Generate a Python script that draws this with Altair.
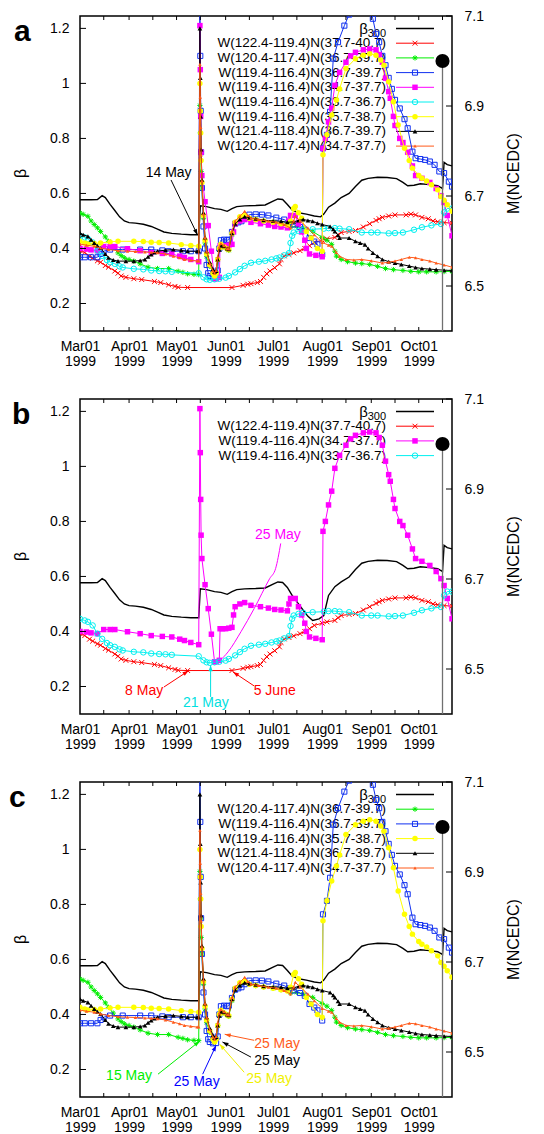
import math
import altair as alt
import pandas as pd

YEAR = "1999"
W, H = 372, 315
FONT = "Liberation Sans"

# ---------------- axes / ticks ----------------
x_domain = ["03-01", "10-22"]
beta_domain = [0.1, 1.245]
mag_domain = [6.4, 7.1]
month_ticks = ["03-01", "04-01", "05-01", "06-01", "07-01", "08-01", "09-01", "10-01"]
minor_ticks = ["03-16", "04-16", "05-16", "06-16", "07-16", "08-16", "09-16", "10-16"]
beta_ticks = [0.2, 0.4, 0.6, 0.8, 1.0, 1.2]
mag_ticks = [6.5, 6.7, 6.9, 7.1]

# ---------------- series (date MM-DD[Thh:mm], beta) ----------------
beta300_ac = [("03-01", 0.577), ("03-08", 0.577), ("03-12", 0.578), ("03-15", 0.592), ("03-17", 0.585),
              ("03-20", 0.560), ("03-23", 0.538), ("03-26", 0.515), ("03-29", 0.500), ("04-01", 0.494),
              ("04-05", 0.492), ("04-10", 0.488), ("04-15", 0.480), ("04-19", 0.470), ("04-23", 0.460),
              ("04-28", 0.455), ("05-04", 0.452), ("05-10", 0.450), ("05-15", 0.450), ("05-16", 0.555),
              ("05-20", 0.552), ("05-25", 0.545), ("05-29", 0.542), ("06-02", 0.535), ("06-05", 0.545),
              ("06-08", 0.552), ("06-13", 0.555), ("06-20", 0.556), ("06-26", 0.558), ("07-01", 0.572),
              ("07-04", 0.580), ("07-07", 0.578), ("07-10", 0.560), ("07-13", 0.540), ("07-17", 0.530),
              ("07-22", 0.525), ("07-27", 0.518), ("07-31", 0.515), ("08-02", 0.525), ("08-05", 0.550),
              ("08-09", 0.565), ("08-13", 0.585), ("08-18", 0.600), ("08-22", 0.625), ("08-26", 0.648),
              ("08-30", 0.655), ("09-05", 0.659), ("09-11", 0.658), ("09-17", 0.654), ("09-21", 0.640),
              ("09-24", 0.628), ("09-28", 0.630), ("10-02", 0.635), ("10-08", 0.632), ("10-13", 0.628),
              ("10-16", 0.618), ("10-17", 0.713), ("10-19", 0.705), ("10-22", 0.700)]

beta300_b = [("03-01", 0.577), ("03-08", 0.577), ("03-12", 0.578), ("03-15", 0.592), ("03-17", 0.585),
             ("03-20", 0.560), ("03-23", 0.538), ("03-26", 0.515), ("03-29", 0.500), ("04-01", 0.494),
             ("04-05", 0.492), ("04-10", 0.488), ("04-15", 0.480), ("04-19", 0.470), ("04-23", 0.460),
             ("04-28", 0.455), ("05-04", 0.452), ("05-10", 0.450), ("05-15", 0.450), ("05-16", 0.555),
             ("05-20", 0.552), ("05-25", 0.545), ("05-29", 0.542), ("06-02", 0.535), ("06-05", 0.545),
             ("06-08", 0.552), ("06-13", 0.555), ("06-20", 0.556), ("06-26", 0.558), ("07-01", 0.572),
             ("07-04", 0.580), ("07-07", 0.578), ("07-10", 0.560), ("07-13", 0.531), ("07-17", 0.500),
             ("07-20", 0.477), ("07-23", 0.455), ("07-26", 0.440), ("07-30", 0.446), ("08-02", 0.458),
             ("08-05", 0.531), ("08-09", 0.563), ("08-13", 0.580), ("08-18", 0.598), ("08-22", 0.625),
             ("08-26", 0.648), ("08-30", 0.655), ("09-05", 0.659), ("09-11", 0.658), ("09-17", 0.654),
             ("09-21", 0.640), ("09-24", 0.628), ("09-28", 0.630), ("10-02", 0.635), ("10-08", 0.632),
             ("10-13", 0.628), ("10-16", 0.618), ("10-17", 0.713), ("10-19", 0.705), ("10-22", 0.700)]

red = [("03-01", 0.392), ("03-04", 0.385), ("03-07", 0.372), ("03-09", 0.365), ("03-12", 0.355),
       ("03-14", 0.350), ("03-17", 0.338), ("03-19", 0.332), ("03-23", 0.318), ("03-25", 0.310),
       ("03-27", 0.300), ("03-30", 0.295), ("04-04", 0.290), ("04-09", 0.287), ("04-17", 0.280),
       ("04-21", 0.276), ("04-26", 0.268), ("04-30", 0.262), ("05-02", 0.259), ("05-08", 0.258),
       ("06-05", 0.258), ("06-12", 0.266), ("06-15", 0.270), ("06-17", 0.272), ("06-21", 0.276),
       ("06-23", 0.280), ("06-25", 0.295), ("06-27", 0.308), ("06-29", 0.318), ("07-02", 0.330),
       ("07-05", 0.344), ("07-06", 0.360), ("07-08", 0.373), ("07-11", 0.378), ("07-14", 0.384),
       ("07-18", 0.392), ("07-21", 0.400), ("07-24", 0.410), ("07-27", 0.422), ("08-01", 0.430),
       ("08-04", 0.435), ("08-09", 0.440), ("08-11", 0.450), ("08-13", 0.458), ("08-18", 0.462),
       ("08-22", 0.465), ("08-27", 0.478), ("08-31", 0.490), ("09-04", 0.502), ("09-06", 0.508),
       ("09-08", 0.513), ("09-12", 0.518), ("09-16", 0.522), ("09-23", 0.522), ("09-26", 0.525),
       ("09-29", 0.522), ("10-03", 0.513), ("10-07", 0.508), ("10-10", 0.500), ("10-13", 0.497),
       ("10-17", 0.494), ("10-22", 0.492)]

cyan = [("03-01", 0.446), ("03-04", 0.440), ("03-06", 0.435), ("03-09", 0.422), ("03-12", 0.392),
        ("03-15", 0.373), ("03-18", 0.358), ("03-20", 0.350), ("03-23", 0.344), ("03-26", 0.335),
        ("03-28", 0.331), ("04-04", 0.326), ("04-10", 0.324), ("04-15", 0.320), ("04-20", 0.318),
        ("04-24", 0.317), ("04-28", 0.315), ("05-15", 0.310), ("05-18", 0.295), ("05-20", 0.288),
        ("05-22", 0.286), ("05-25", 0.288), ("05-28", 0.290), ("06-01", 0.294), ("06-03", 0.300),
        ("06-07", 0.313), ("06-10", 0.325), ("06-13", 0.337), ("06-17", 0.348), ("06-22", 0.352),
        ("06-26", 0.355), ("06-30", 0.360), ("07-03", 0.364), ("07-05", 0.367), ("07-08", 0.375),
        ("07-11", 0.383), ("07-12", 0.420), ("07-13", 0.446), ("07-14", 0.458), ("07-17", 0.464),
        ("07-20", 0.468), ("07-26", 0.470), ("08-02", 0.472), ("08-05", 0.474), ("08-09", 0.474),
        ("08-12", 0.472), ("08-18", 0.470), ("08-26", 0.458), ("09-01", 0.458), ("09-05", 0.458),
        ("09-12", 0.455), ("09-16", 0.456), ("09-21", 0.458), ("09-28", 0.468), ("10-03", 0.477),
        ("10-09", 0.484), ("10-15", 0.489), ("10-17", 0.531), ("10-19", 0.545), ("10-22", 0.545)]

magenta = [("03-01", 0.400), ("03-05", 0.398), ("03-08", 0.395), ("03-12", 0.392), ("03-16", 0.407),
           ("03-20", 0.407), ("03-23", 0.407), ("03-31", 0.399), ("04-08", 0.392), ("04-15", 0.385),
           ("04-22", 0.382), ("04-28", 0.380), ("05-03", 0.372), ("05-06", 0.367), ("05-10", 0.360),
           ("05-15", 0.352), ("05-15T18:00", 1.21), ("05-16T00:00", 1.05), ("05-16T06:00", 0.88),
           ("05-16T12:00", 0.75), ("05-17", 0.665), ("05-19", 0.57), ("05-21", 0.483), ("05-23", 0.39),
           ("05-25", 0.29), ("05-26", 0.29), ("05-28", 0.295), ("05-28T12:00", 0.41), ("05-30", 0.41),
           ("06-01", 0.41), ("06-03", 0.412), ("06-05", 0.415), ("06-06", 0.46), ("06-07", 0.49),
           ("06-10", 0.50), ("06-13", 0.505), ("06-17", 0.495), ("06-23", 0.49), ("06-28", 0.485),
           ("07-02", 0.48), ("07-06", 0.478), ("07-10", 0.475), ("07-11", 0.50), ("07-12", 0.52),
           ("07-15", 0.52), ("07-17", 0.49), ("07-19", 0.46), ("07-21", 0.43), ("07-22", 0.40),
           ("07-24", 0.38), ("07-28", 0.375), ("08-01", 0.37), ("08-01T12:00", 0.764), ("08-03", 0.80),
           ("08-05", 0.86), ("08-07", 0.91), ("08-09", 0.993), ("08-12", 1.04), ("08-16", 1.077),
           ("08-19", 1.10), ("08-22", 1.113), ("08-27", 1.122), ("08-31", 1.125), ("09-04", 1.122),
           ("09-06", 1.105), ("09-08", 1.077), ("09-10", 1.019), ("09-12", 0.97), ("09-13", 0.946),
           ("09-15", 0.88), ("09-16", 0.847), ("09-19", 0.80), ("09-21", 0.785), ("09-24", 0.75),
           ("09-27", 0.70), ("09-29", 0.665), ("10-03", 0.655), ("10-08", 0.64), ("10-12", 0.618),
           ("10-15", 0.592), ("10-17", 0.567), ("10-19", 0.52), ("10-22", 0.446)]

blue = [("03-01", 0.368), ("03-04", 0.368), ("03-08", 0.368), ("03-12", 0.368), ("03-14", 0.380),
        ("03-16", 0.390), ("03-20", 0.396), ("03-28", 0.396), ("04-08", 0.396), ("04-15", 0.396),
        ("04-22", 0.393), ("04-26", 0.390), ("05-05", 0.390), ("05-10", 0.390), ("05-15", 0.390),
        ("05-15T18:00", 1.32), ("05-16T00:00", 1.10), ("05-16T06:00", 0.90), ("05-16T12:00", 0.75),
        ("05-17", 0.62), ("05-18", 0.48), ("05-19", 0.40), ("05-20", 0.34), ("05-21", 0.31),
        ("05-22", 0.300), ("05-24", 0.295), ("05-26", 0.296), ("05-27", 0.32), ("05-28", 0.40),
        ("05-29", 0.43), ("05-31", 0.432), ("06-02", 0.43), ("06-03", 0.432), ("06-05", 0.46),
        ("06-07", 0.49), ("06-09", 0.495), ("06-11", 0.499), ("06-13", 0.510), ("06-16", 0.523),
        ("06-20", 0.524), ("06-24", 0.523), ("06-28", 0.520), ("07-03", 0.512), ("07-08", 0.505),
        ("07-11", 0.495), ("07-14", 0.487), ("07-18", 0.478), ("07-21", 0.468), ("07-24", 0.438),
        ("07-27", 0.425), ("07-29", 0.415), ("08-01", 0.378), ("08-01T12:00", 0.764), ("08-04", 0.813),
        ("08-06", 0.897), ("08-08", 1.09), ("08-11", 1.15), ("08-15", 1.21), ("08-18", 1.25),
        ("08-24", 1.31), ("08-29", 1.30), ("09-02", 1.235), ("09-04", 1.18), ("09-06", 1.15),
        ("09-08", 1.10), ("09-10", 1.066), ("09-12", 1.02), ("09-14", 0.98), ("09-16", 0.94),
        ("09-19", 0.909), ("09-22", 0.87), ("09-24", 0.837), ("09-27", 0.752), ("09-29", 0.728),
        ("10-02", 0.725), ("10-05", 0.722), ("10-08", 0.716), ("10-11", 0.704), ("10-14", 0.68),
        ("10-17", 0.674), ("10-20", 0.643), ("10-22", 0.625)]

yellow = [("03-01", 0.426), ("03-04", 0.420), ("03-06", 0.416), ("03-10", 0.418), ("03-14", 0.420),
          ("03-20", 0.424), ("03-25", 0.426), ("04-04", 0.426), ("04-10", 0.425), ("04-15", 0.423),
          ("04-20", 0.422), ("04-26", 0.420), ("05-04", 0.414), ("05-10", 0.411), ("05-15", 0.408),
          ("05-15T18:00", 1.00), ("05-16T00:00", 0.90), ("05-16T06:00", 0.82), ("05-16T12:00", 0.72),
          ("05-17", 0.64), ("05-18", 0.52), ("05-19", 0.43), ("05-20", 0.38), ("05-22", 0.34),
          ("05-24", 0.31), ("05-25", 0.300), ("05-26", 0.31), ("05-27", 0.36), ("05-28", 0.40),
          ("05-29", 0.415), ("05-31", 0.405), ("06-02", 0.398), ("06-03", 0.395), ("06-05", 0.455),
          ("06-07", 0.495), ("06-10", 0.515), ("06-13", 0.52), ("06-16", 0.51), ("06-20", 0.505),
          ("06-25", 0.50), ("07-01", 0.495), ("07-06", 0.49), ("07-10", 0.485), ("07-12", 0.499),
          ("07-14", 0.545), ("07-15", 0.553), ("07-17", 0.53), ("07-19", 0.51), ("07-22", 0.462),
          ("07-25", 0.438), ("07-29", 0.400), ("08-01", 0.390), ("08-01T12:00", 0.741), ("08-04", 0.813),
          ("08-07", 0.885), ("08-10", 0.94), ("08-12", 0.98), ("08-16", 1.054), ("08-22", 1.09),
          ("08-27", 1.102), ("08-31", 1.108), ("09-04", 1.102), ("09-07", 1.085), ("09-09", 1.066),
          ("09-12", 1.006), ("09-15", 0.933), ("09-18", 0.849), ("09-22", 0.764), ("09-25", 0.72),
          ("09-27", 0.692), ("10-01", 0.665), ("10-03", 0.655), ("10-06", 0.645), ("10-09", 0.632),
          ("10-13", 0.613), ("10-15", 0.589), ("10-17", 0.575), ("10-19", 0.559), ("10-22", 0.535)]

green = [("03-01", 0.529), ("03-03", 0.524), ("03-06", 0.517), ("03-08", 0.500), ("03-10", 0.487),
         ("03-12", 0.475), ("03-14", 0.462), ("03-17", 0.442), ("03-19", 0.426), ("03-22", 0.405),
         ("03-25", 0.384), ("03-27", 0.374), ("03-29", 0.366), ("04-01", 0.360), ("04-04", 0.354),
         ("04-08", 0.344), ("04-13", 0.332), ("04-19", 0.327), ("04-26", 0.327), ("05-02", 0.317),
         ("05-05", 0.313), ("05-08", 0.308), ("05-12", 0.306), ("05-15", 0.305), ("05-15T18:00", 0.92),
         ("05-16T00:00", 0.82), ("05-16T06:00", 0.75), ("05-16T12:00", 0.68), ("05-17", 0.62),
         ("05-18", 0.51), ("05-19", 0.42), ("05-20", 0.37), ("05-22", 0.335), ("05-24", 0.315),
         ("05-25", 0.308), ("05-26", 0.315), ("05-27", 0.36), ("05-28", 0.395), ("05-29", 0.41),
         ("05-31", 0.405), ("06-02", 0.398), ("06-03", 0.393), ("06-05", 0.45), ("06-07", 0.49),
         ("06-10", 0.51), ("06-13", 0.52), ("06-16", 0.51), ("06-20", 0.505), ("06-25", 0.50),
         ("07-01", 0.495), ("07-06", 0.49), ("07-12", 0.478), ("07-16", 0.48), ("07-20", 0.474),
         ("07-26", 0.462), ("08-01", 0.440), ("08-04", 0.430), ("08-07", 0.415), ("08-09", 0.39),
         ("08-10", 0.372), ("08-13", 0.360), ("08-17", 0.352), ("08-22", 0.347), ("08-26", 0.345),
         ("08-31", 0.342), ("09-05", 0.335), ("09-10", 0.327), ("09-15", 0.323), ("09-21", 0.320),
         ("09-26", 0.317), ("10-01", 0.315), ("10-06", 0.315), ("10-12", 0.315), ("10-17", 0.316),
         ("10-22", 0.317)]

black = [("03-01", 0.456), ("03-03", 0.450), ("03-06", 0.444), ("03-08", 0.432), ("03-10", 0.420),
         ("03-12", 0.410), ("03-14", 0.402), ("03-17", 0.380), ("03-19", 0.366), ("03-22", 0.358),
         ("03-25", 0.354), ("03-30", 0.354), ("04-04", 0.354), ("04-08", 0.356), ("04-11", 0.360),
         ("04-13", 0.370), ("04-15", 0.378), ("04-17", 0.385), ("04-19", 0.390), ("04-24", 0.394),
         ("04-29", 0.396), ("05-04", 0.393), ("05-08", 0.390), ("05-14", 0.390), ("05-15", 0.390),
         ("05-15T18:00", 1.20), ("05-16T00:00", 1.02), ("05-16T06:00", 0.88), ("05-16T12:00", 0.76),
         ("05-17", 0.65), ("05-18", 0.53), ("05-19", 0.44), ("05-20", 0.39), ("05-22", 0.35),
         ("05-24", 0.325), ("05-25", 0.315), ("05-26", 0.318), ("05-27", 0.36), ("05-28", 0.395),
         ("05-29", 0.41), ("05-31", 0.408), ("06-02", 0.40), ("06-03", 0.397), ("06-05", 0.455),
         ("06-07", 0.49), ("06-10", 0.505), ("06-13", 0.515), ("06-16", 0.512), ("06-20", 0.508),
         ("06-25", 0.503), ("07-01", 0.50), ("07-06", 0.499), ("07-10", 0.495), ("07-14", 0.497),
         ("07-17", 0.502), ("07-20", 0.505), ("07-23", 0.502), ("07-26", 0.499), ("07-29", 0.492),
         ("08-01", 0.487), ("08-06", 0.480), ("08-08", 0.470), ("08-09", 0.462), ("08-11", 0.448),
         ("08-12", 0.438), ("08-18", 0.438), ("08-22", 0.426), ("08-25", 0.420), ("08-28", 0.414),
         ("08-30", 0.400), ("09-02", 0.384), ("09-05", 0.372), ("09-08", 0.360), ("09-12", 0.352),
         ("09-16", 0.347), ("09-20", 0.342), ("09-25", 0.336), ("09-29", 0.331), ("10-03", 0.327),
         ("10-08", 0.325), ("10-12", 0.323), ("10-17", 0.321), ("10-22", 0.320)]

orange = [("03-01", 0.416), ("03-05", 0.412), ("03-10", 0.408), ("03-14", 0.402), ("03-19", 0.396),
          ("03-25", 0.392), ("03-31", 0.390), ("04-05", 0.389), ("04-11", 0.387), ("04-15", 0.386),
          ("04-19", 0.384), ("04-24", 0.380), ("04-29", 0.372), ("05-03", 0.366), ("05-06", 0.360),
          ("05-10", 0.357), ("05-14", 0.354), ("05-15", 0.354), ("05-15T18:00", 1.07),
          ("05-16T00:00", 0.95), ("05-16T06:00", 0.84), ("05-16T12:00", 0.74), ("05-17", 0.645),
          ("05-18", 0.525), ("05-19", 0.44), ("05-20", 0.39), ("05-22", 0.345), ("05-24", 0.318),
          ("05-25", 0.310), ("05-26", 0.32), ("05-27", 0.37), ("05-28", 0.405), ("05-29", 0.418),
          ("05-31", 0.41), ("06-02", 0.40), ("06-03", 0.398), ("06-05", 0.462), ("06-07", 0.50),
          ("06-10", 0.517), ("06-13", 0.535), ("06-15", 0.52), ("06-17", 0.51), ("06-22", 0.505),
          ("06-28", 0.499), ("07-03", 0.495), ("07-08", 0.487), ("07-12", 0.474), ("07-14", 0.50),
          ("07-15", 0.517), ("07-18", 0.50), ("07-23", 0.474), ("07-27", 0.450), ("08-01", 0.422),
          ("08-05", 0.412), ("08-07", 0.408), ("08-10", 0.385), ("08-12", 0.372), ("08-16", 0.360),
          ("08-21", 0.358), ("08-26", 0.360), ("09-01", 0.355), ("09-08", 0.347), ("09-12", 0.350),
          ("09-16", 0.354), ("09-20", 0.360), ("09-25", 0.368), ("09-29", 0.366), ("10-03", 0.360),
          ("10-08", 0.354), ("10-12", 0.347), ("10-17", 0.340), ("10-22", 0.332)]

quake_dates = ["10-16"]
quake_mags = [7.0]

labels = {
    "red": "W(122.4-119.4)N(37.7-40.7)",
    "green": "W(120.4-117.4)N(36.7-39.7)",
    "blue": "W(119.4-116.4)N(36.7-39.7)",
    "magenta": "W(119.4-116.4)N(34.7-37.7)",
    "cyan": "W(119.4-116.4)N(33.7-36.7)",
    "yellow": "W(119.4-116.4)N(35.7-38.7)",
    "black": "W(121.4-118.4)N(36.7-39.7)",
    "orange": "W(120.4-117.4)N(34.7-37.7)",
}
series = {"red": red, "green": green, "blue": blue, "magenta": magenta, "cyan": cyan,
          "yellow": yellow, "black": black, "orange": orange}

# annotations: (text, date, beta, colour) and arrows (date1, beta1, date2, beta2, colour)
notes_a = [("14 May", "04-26", 0.675, "#000000")]
arrows_a = [("04-27T12:00", 0.649, "05-14T06:00", 0.449, "#000000")]
notes_b = [("25 May", "07-04", 0.749, "#ff00ff"), ("8 May", "04-10T12:00", 0.184, "#ff0000"),
           ("21 May", "05-19T12:00", 0.140, "#00e0e0"), ("5 June", "07-02", 0.184, "#ff0000")]
arrows_b = [("04-23", 0.198, "05-08T14:00", 0.257, "#ff0000"),
            ("05-22T12:00", 0.162, "05-22T12:00", 0.277, "#00e0e0"),
            ("06-19", 0.202, "06-05T16:00", 0.253, "#ff0000")]
curve_b = [("07-05T19:00", 0.72), ("07-02T14:00", 0.629), ("06-28T19:00", 0.592), ("06-19", 0.483),
           ("06-10T19:00", 0.40), ("06-02T14:00", 0.326), ("05-28T05:00", 0.293)]
notes_c = [("25 May", "07-03T12:00", 0.292, "#ff5a1a"), ("25 May", "07-03T12:00", 0.230, "#000000"),
           ("25 May", "06-28T12:00", 0.165, "#f0f000"), ("25 May", "05-13T17:00", 0.154, "#0000ff"),
           ("15 May", "04-01", 0.176, "#00ee00")]
arrows_c = [("06-19", 0.306, "05-31T10:00", 0.328, "#ff5a1a"),
            ("06-17", 0.245, "05-30", 0.300, "#000000"),
            ("06-12T17:00", 0.190, "05-28T05:00", 0.292, "#f0f000"),
            ("05-17T12:00", 0.183, "05-26", 0.288, "#0000ff"),
            ("04-19T07:00", 0.183, "05-15T14:00", 0.303, "#00ee00")]

# ---------------- styles ----------------
STY = {
    "red": dict(color="#ff0000", shape="M-1,-1L1,1M-1,1L1,-1", filled=False, size=24),
    "green": dict(color="#00ee00", shape="M-1,0L1,0M0,-1L0,1M-0.7,-0.7L0.7,0.7M-0.7,0.7L0.7,-0.7",
                  filled=False, size=28),
    "blue": dict(color="#1030f0", shape="square", filled=False, size=26),
    "magenta": dict(color="#ff00ff", shape="square", filled=True, size=30),
    "cyan": dict(color="#00f0f0", shape="circle", filled=False, size=30),
    "yellow": dict(color="#ffff00", shape="circle", filled=True, size=30),
    "black": dict(color="#000000", shape="triangle-up", filled=True, size=22),
    "orange": dict(color="#ff5a1a", shape="triangle-up", filled=True, size=12),
}
HEAD = "M0,0L0.7,2L-0.7,2Z"


def ts(md):
    return pd.Timestamp(f"{YEAR}-{md}", tz="UTC")


def iso(md):
    return ts(md).strftime("%Y-%m-%dT%H:%M:%SZ")


def ms(md):
    return int(ts(md).value // 1_000_000)


XS = alt.Scale(type="utc", domain=[ms(x_domain[0]), ms(x_domain[1])])
BS = alt.Scale(domain=beta_domain, nice=False, zero=False)
MS = alt.Scale(domain=mag_domain, nice=False, zero=False)
SPAN_DAYS = (ts(x_domain[1]) - ts(x_domain[0])).total_seconds() / 86400.0

X_AXIS = alt.Axis(values=[ms(m) for m in month_ticks],
                  labelExpr="[utcFormat(datum.value, '%b%d'), utcFormat(datum.value, '%Y')]",
                  labelFont=FONT, labelFontSize=14, labelColor="black", labelPadding=8,
                  labelLineHeight=15, labelFlush=False, labelOverlap=False,
                  ticks=False, tickSize=0, domain=False, grid=False, title=None)
Y_AXIS = alt.Axis(values=beta_ticks, format="~g", orient="left", labelFont=FONT, labelFontSize=14,
                  labelColor="black", labelPadding=11, labelFlush=False, labelOverlap=False,
                  ticks=False, tickSize=0, domain=False, grid=False,
                  title="β", titleFont=FONT, titleFontSize=16, titleFontWeight="normal",
                  titleColor="black", titleAngle=270, titleX=-60, titleY=157,
                  titleAlign="center", titleBaseline="middle")
M_AXIS = alt.Axis(values=mag_ticks, format=".1f", orient="right", labelFont=FONT, labelFontSize=14,
                  labelColor="black", labelPadding=12, labelFlush=False, labelOverlap=False,
                  ticks=False, tickSize=0, domain=False, grid=False,
                  title="M(NCEDC)", titleFont=FONT, titleFontSize=16, titleFontWeight="normal",
                  titleColor="black", titleAngle=270, titleX=61, titleY=157,
                  titleAlign="center", titleBaseline="middle")


def sdf(pairs):
    return pd.DataFrame({"t": [iso(p[0]) for p in pairs], "v": [p[1] for p in pairs]})


def EX():
    return alt.X("t:T", scale=XS, axis=X_AXIS)


def EY(field="v"):
    return alt.Y(f"{field}:Q", scale=BS, axis=Y_AXIS)


def EM(field="m"):
    return alt.Y(f"{field}:Q", scale=MS, axis=M_AXIS)


def xy():
    return dict(x=EX(), y=EY())


ONE = pd.DataFrame({"k": [0]})


def legend_layers(keys):
    out = []
    y0 = 12.5
    out.append(alt.Chart(ONE).mark_text(text="β", font=FONT, fontSize=15, align="right",
                                        baseline="middle", color="black")
               .encode(x=alt.value(288), y=alt.value(y0)))
    out.append(alt.Chart(ONE).mark_text(text="300", font=FONT, fontSize=11, align="right",
                                        baseline="middle", color="black")
               .encode(x=alt.value(306), y=alt.value(y0 + 5)))
    out.append(alt.Chart(ONE).mark_rule(color="black", strokeWidth=1.5)
               .encode(x=alt.value(316), x2=alt.value(354), y=alt.value(y0)))
    for i, k in enumerate(keys, 1):
        y = y0 + 14.7 * i
        st = STY[k]
        out.append(alt.Chart(ONE).mark_text(text=labels[k], font=FONT, fontSize=13.5, align="right",
                                            baseline="middle", color="black")
                   .encode(x=alt.value(306), y=alt.value(y)))
        out.append(alt.Chart(ONE).mark_rule(color=st["color"], strokeWidth=1)
                   .encode(x=alt.value(316), x2=alt.value(354), y=alt.value(y)))
        out.append(alt.Chart(ONE).mark_point(shape=st["shape"], filled=st["filled"], size=st["size"],
                                             color=st["color"], opacity=1, strokeWidth=1)
                   .encode(x=alt.value(335), y=alt.value(y)))
    return out


def series_layers(k):
    st = STY[k]
    d = sdf(series[k])
    line = alt.Chart(d).mark_line(color=st["color"], strokeWidth=1, clip=True).encode(**xy())
    pts = alt.Chart(d).mark_point(shape=st["shape"], filled=st["filled"], size=st["size"],
                                  color=st["color"], opacity=1, strokeWidth=1, clip=True).encode(**xy())
    return [line, pts]


def pix(md, v):
    d = (ts(md) - ts(x_domain[0])).total_seconds() / 86400.0
    return d * W / SPAN_DAYS, (beta_domain[1] - v) * H / (beta_domain[1] - beta_domain[0])


def note_layers(notes, arrows):
    out = []
    for txt, md, v, col in notes:
        d = pd.DataFrame({"t": [iso(md)], "v": [v], "s": [txt]})
        out.append(alt.Chart(d).mark_text(font=FONT, fontSize=14, color=col, align="center",
                                          baseline="middle").encode(text="s:N", **xy()))
    for md1, v1, md2, v2, col in arrows:
        d = pd.DataFrame({"t": [iso(md1)], "v": [v1], "t2": [iso(md2)], "v2": [v2]})
        out.append(alt.Chart(d).mark_rule(color=col, strokeWidth=1)
                   .encode(x2="t2:T", y2="v2:Q", **xy()))
        x1, y1 = pix(md1, v1)
        x2, y2 = pix(md2, v2)
        ang = math.degrees(math.atan2(x2 - x1, -(y2 - y1))) % 360
        hd = pd.DataFrame({"t": [iso(md2)], "v": [v2]})
        out.append(alt.Chart(hd).mark_point(shape=HEAD, filled=True, size=36, color=col, opacity=1,
                                            angle=round(ang, 1)).encode(**xy()))
    return out


def tick_layers():
    xt = pd.DataFrame({"t": [iso(m) for m in month_ticks[1:] + minor_ticks]})
    yt = pd.DataFrame({"v": beta_ticks})
    out = [
        alt.Chart(xt).mark_rule(color="black", strokeWidth=1).encode(x=EX(), y=alt.value(H), y2=alt.value(H - 4)),
        alt.Chart(xt).mark_rule(color="black", strokeWidth=1).encode(x=EX(), y=alt.value(0), y2=alt.value(4)),
        alt.Chart(yt).mark_rule(color="black", strokeWidth=1).encode(y=EY(), x=alt.value(0), x2=alt.value(6)),
    ]
    return out


def mag_layers():
    q = pd.DataFrame({"t": [iso(d) for d in quake_dates], "m": quake_mags,
                      "m0": [mag_domain[0]] * len(quake_mags)})
    mt = pd.DataFrame({"m": mag_ticks})
    return [
        alt.Chart(q).mark_rule(color="#707070", strokeWidth=1.3).encode(x=EX(), y=EM(), y2="m0:Q"),
        alt.Chart(q).mark_point(shape="circle", filled=True, size=200, color="black", opacity=1).encode(
            x=EX(), y=EM()),
        alt.Chart(mt).mark_rule(color="black", strokeWidth=1).encode(
            y=EM(), x=alt.value(W), x2=alt.value(W - 6)),
    ]


def panel(letter, lx, keys, b300, notes, arrows, curve=None):
    layers = legend_layers(keys)
    layers.append(alt.Chart(sdf(b300)).mark_line(color="black", strokeWidth=1.4, clip=True)
                  .encode(**xy()))
    for k in keys:
        layers += series_layers(k)
    if curve is not None:
        layers.append(alt.Chart(sdf(curve)).mark_line(color="#ff00ff", strokeWidth=1,
                                                      interpolate="monotone").encode(**xy()))
    layers += note_layers(notes, arrows)
    layers += tick_layers()
    layers.append(alt.Chart(ONE).mark_text(text=letter, font=FONT, fontSize=30, fontWeight="bold",
                                           align="left", baseline="alphabetic", color="black")
                  .encode(x=alt.value(lx), y=alt.value(25)))
    beta_group = alt.layer(*layers)
    mag_group = alt.layer(*mag_layers())
    return alt.layer(beta_group, mag_group).resolve_scale(y="independent").properties(width=W, height=H)


pa = panel("a", -66, ["red", "green", "blue", "magenta", "cyan", "yellow", "black", "orange"],
           beta300_ac, notes_a, arrows_a)
pb = panel("b", -68, ["red", "magenta", "cyan"], beta300_b, notes_b, arrows_b, curve_b)
pc = panel("c", -71, ["green", "blue", "yellow", "black", "orange"], beta300_ac, notes_c, arrows_c)

chart = (alt.vconcat(pa, pb, pc, spacing=22)
         .properties(padding={"left": 0, "top": 0, "right": 0, "bottom": 0})
         .configure_view(stroke="black", strokeWidth=1.5))

chart.save("out.html", embed_options={"renderer": "svg", "actions": False})
